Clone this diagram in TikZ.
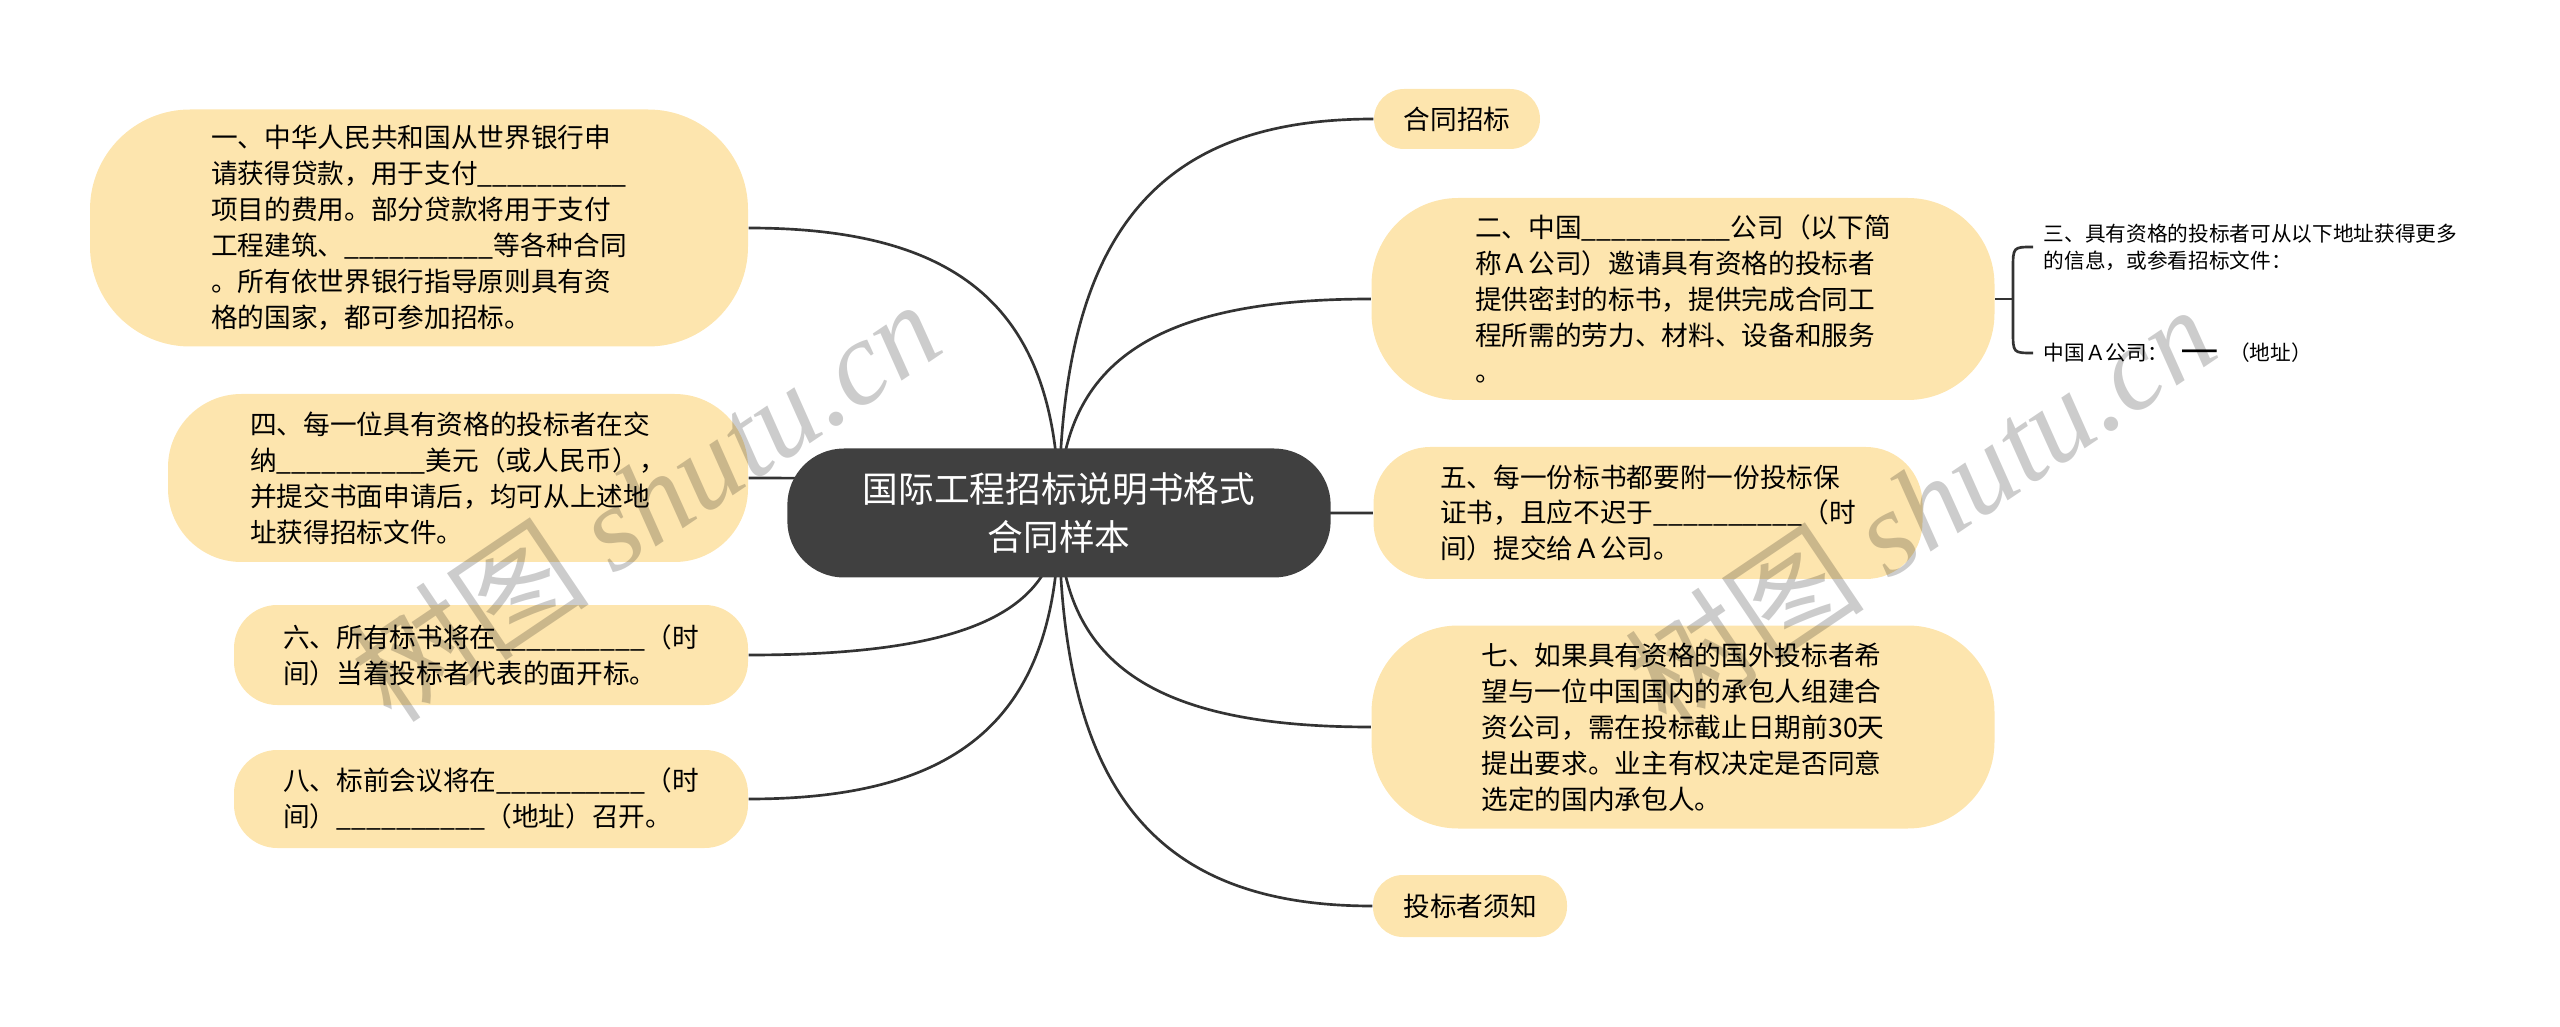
\documentclass[tikz,border=0pt]{standalone}
\usepackage{fontspec}
\newfontfamily\cjk{Noto Sans CJK SC}
\newfontfamily\wmserif{Liberation Serif}
\usetikzlibrary{calc,backgrounds}

\definecolor{leafyellow}{HTML}{FDE5AE}
\definecolor{rootgray}{HTML}{404040}
\definecolor{linkgray}{HTML}{333333}

\newcommand\blank{\_\_\_\_\_\_\_\_\_\_}

\tikzset{
  root/.style={fill=rootgray, text=white, rounded corners=17pt, align=center,
    minimum width=163pt, minimum height=38.7pt, inner sep=0pt,
    font=\cjk\fontsize{10.7}{14.2}\selectfont},
  leaf/.style={fill=leafyellow, align=left, inner sep=0pt,
    font=\cjk\fontsize{8}{10.8}\selectfont},
  note/.style={anchor=west, align=left, inner sep=0pt,
    font=\cjk\fontsize{6.2}{8.1}\selectfont},
  link/.style={draw=linkgray, line width=0.8pt},
  branch/.style={link, to path={.. controls ($(\tikztostart)!0.7!(\tikztostart|-\tikztotarget)$)
    and ($(\tikztotarget)!0.7!(\tikztostart|-\tikztotarget)$) .. (\tikztotarget)}},
  watermark/.style={rotate=34, text=black, opacity=0.2, inner sep=0pt}
}

\begin{document}
\begin{tikzpicture}[x=0.3pt, y=-0.3pt]
  \useasboundingbox (0,0) rectangle (2560,1027);

  % centre topic
  \node[root] (c) at (1059,513) {国际工程招标说明书格式\\合同样本};

  % left side
  \node[leaf, minimum width=197.4pt, minimum height=71.1pt, rounded corners=30pt] (n1) at (419,228)
    {一、中华人民共和国从世界银行申\\请获得贷款，用于支付\blank\\项目的费用。部分贷款将用于支付\\工程建筑、\blank 等各种合同\\。所有依世界银行指导原则具有资\\格的国家，都可参加招标。};
  \node[leaf, minimum width=174pt, minimum height=50.4pt, rounded corners=22pt] (n4) at (458,478)
    {四、每一位具有资格的投标者在交\\纳\blank 美元（或人民币），\\并提交书面申请后，均可从上述地\\址获得招标文件。};
  \node[leaf, minimum width=154.2pt, minimum height=30pt, rounded corners=13pt] (n6) at (491,655)
    {六、所有标书将在\blank（时\\间）当着投标者代表的面开标。};
  \node[leaf, minimum width=154.2pt, minimum height=29.4pt, rounded corners=13pt] (n8) at (491,799)
    {八、标前会议将在\blank（时\\间）\blank（地址）召开。};

  % right side
  \node[leaf, minimum width=49.8pt, minimum height=18pt, rounded corners=9pt] (ht) at (1457,119) {合同招标};
  \node[leaf, minimum width=186.9pt, minimum height=60.6pt, rounded corners=26pt] (n2) at (1683,299)
    {二、中国\blank 公司（以下简\\称Ａ公司）邀请具有资格的投标者\\提供密封的标书，提供完成合同工\\程所需的劳力、材料、设备和服务\\。};
  \node[leaf, minimum width=164.7pt, minimum height=39.6pt, rounded corners=17pt] (n5) at (1648,513)
    {五、每一份标书都要附一份投标保\\证书，且应不迟于\blank（时\\间）提交给Ａ公司。};
  \node[leaf, minimum width=186.9pt, minimum height=60.9pt, rounded corners=26pt] (n7) at (1683,727)
    {七、如果具有资格的国外投标者希\\望与一位中国国内的承包人组建合\\资公司，需在投标截止日期前30天\\提出要求。业主有权决定是否同意\\选定的国内承包人。};
  \node[leaf, minimum width=58.2pt, minimum height=18.6pt, rounded corners=9pt] (xz) at (1470,906) {投标者须知};

  % notes beside n2
  \node[note] (s1) at (2043,247) {三、具有资格的投标者可从以下地址获得更多\\的信息，或参看招标文件：};
  \node[note] (s2) at (2043,353) {中国Ａ公司：\hspace{0.6em}\raisebox{-1pt}{\fontsize{13}{8}\selectfont —}\hspace{0.5em}（地址）};
  \coordinate (bk) at (2013,299);

  \begin{pgfonlayer}{background}
    \draw[branch] (c.center) to (n1.east);
    \draw[branch] (c.center) to (n4.east);
    \draw[branch] (c.center) to (n6.east);
    \draw[branch] (c.center) to (n8.east);
    \draw[branch] (c.center) to (ht.west);
    \draw[branch] (c.center) to (n2.west);
    \draw[branch] (c.center) to (n5.west);
    \draw[branch] (c.center) to (n7.west);
    \draw[branch] (c.center) to (xz.west);
  \end{pgfonlayer}

  % brace
  \draw[link] (n2.east) -- (bk);
  \draw[link] ([xshift=-3pt]s1.west) .. controls (bk|-s1.west) .. ($(bk|-s1.west)+(0,22)$)
    -- ($(bk|-s2.west)+(0,-22)$) .. controls (bk|-s2.west) .. ([xshift=-3pt]s2.west);

  % watermarks
  \node[watermark] (wm1) at (645,500) {\fontsize{36}{36}\selectfont\cjk 树图 \wmserif\itshape shutu.cn};
  \node[watermark] (wm2) at (1920,505) {\fontsize{36}{36}\selectfont\cjk 树图 \wmserif\itshape shutu.cn};
\end{tikzpicture}
\end{document}
